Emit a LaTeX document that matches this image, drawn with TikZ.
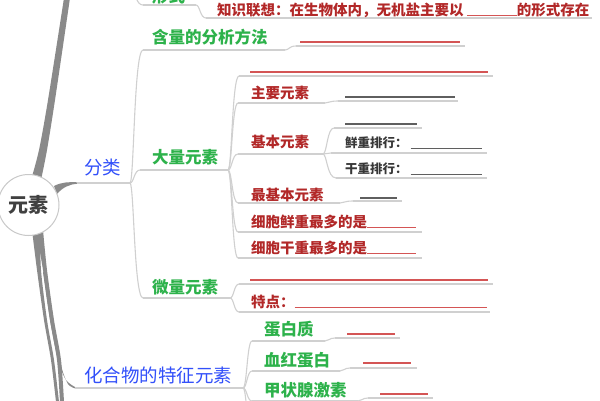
\documentclass[tikz,border=0pt]{standalone}
\usepackage{fontspec}
\newfontfamily\cjk{Noto Sans CJK SC}
\usetikzlibrary{calc}
\definecolor{redT}{RGB}{178,40,40}
\definecolor{redL}{RGB}{212,85,85}
\definecolor{greenT}{RGB}{45,178,75}
\definecolor{blueT}{RGB}{50,80,250}
\definecolor{darkT}{RGB}{55,55,55}
\definecolor{darkL}{RGB}{95,95,95}
\definecolor{ulgray}{RGB}{208,208,208}
\definecolor{trunkgray}{RGB}{138,138,138}
\definecolor{circgray}{RGB}{200,200,200}
\newcommand\mmlink[2]{\draw[ul] let \p1=(#1), \p2=(#2) in (\p1) .. controls (\x1+4pt,\y1) and (\x1+4pt,\y2) .. (\p2);}
\begin{document}
\begin{tikzpicture}[x=1pt,y=-1pt,
 ul/.style={draw=ulgray,line width=1.1pt},
 trunk/.style={fill=trunkgray},
 base/.style={anchor=west,inner sep=0pt,outer sep=0pt},
 tblue/.style={base,text=blueT,font=\cjk\fontsize{18.5}{20}\selectfont},
 tgreen/.style={base,text=greenT,font=\cjk\bfseries\fontsize{16.5}{18}\selectfont},
 tred/.style={base,text=redT,font=\cjk\bfseries\fontsize{14.5}{16}\selectfont},
 tdark/.style={base,text=darkT,font=\cjk\bfseries\fontsize{12.5}{14}\selectfont},
 blankR/.style={base,text=redL},
 blankD/.style={base,text=darkL},
]
\useasboundingbox (0,0) rectangle (600,400);
\clip (0,0) rectangle (600,400);
\fill[white] (0,0) rectangle (600,400);

% ---- thick branches
\fill[trunk] plot[smooth] coordinates {(64,-2) (48,100) (39,150) (31,180)} -- plot[smooth] coordinates {(41,180) (47,150) (55,100) (70,-2)} -- cycle;
\fill[trunk] plot[smooth] coordinates {(32,230) (37,270) (44,320) (51,360) (56,402)} -- plot[smooth] coordinates {(59,402) (54,360) (47,320) (41,270) (40,230)} -- cycle;
\fill[trunk] plot[smooth] coordinates {(36,230) (43,270) (50,320) (57,360) (60,402)} -- plot[smooth] coordinates {(64,402) (61,360) (54,320) (47,270) (43,230)} -- cycle;
\fill[trunk] plot[smooth] coordinates {(43,272) (50,320) (58,360) (66,380) (76,387.5)} -- plot[smooth] coordinates {(76,388.7) (68,384) (61,365) (53,320) (46,272)} -- cycle;
\fill[trunk] (54,186) .. controls (62,182) and (68,182) .. (78,182.3) -- (78,183.8) .. controls (70,184) and (63,187) .. (57,194) -- cycle;

% ---- coordinates
\coordinate (p0) at (132,-8);
\coordinate (u0s) at (143,5); \coordinate (J0) at (196,5);
\coordinate (u0c) at (206,18); \coordinate (u0e) at (592,18);
\coordinate (fls) at (77,183); \coordinate (J1) at (130,183);
\coordinate (hls) at (143,50); \coordinate (J3) at (285,50);
\coordinate (b0s) at (296,46); \coordinate (b0e) at (465,46);
\coordinate (dls) at (140,170); \coordinate (J4) at (228,170);
\coordinate (b1s) at (239,76); \coordinate (b1e) at (493,76);
\coordinate (zys) at (238,103); \coordinate (J6) at (325,103);
\coordinate (b2s) at (338,101); \coordinate (b2e) at (458,101);
\coordinate (jbs) at (238,154); \coordinate (J7) at (323,154);
\coordinate (b3s) at (334,128); \coordinate (b3e) at (422,128);
\coordinate (xzs) at (331,153); \coordinate (xze) at (487,153);
\coordinate (gzs) at (336,178); \coordinate (gze) at (487,178);
\coordinate (zjbs) at (238,203); \coordinate (J8) at (340,203);
\coordinate (b4s) at (353,201); \coordinate (b4e) at (402,201);
\coordinate (xxs) at (238,232); \coordinate (xxe) at (422,232);
\coordinate (ggs) at (238,258); \coordinate (gge) at (422,258);
\coordinate (wls) at (143,298); \coordinate (J5) at (230,298);
\coordinate (b5s) at (239,284); \coordinate (b5e) at (493,284);
\coordinate (tds) at (239,312); \coordinate (tde) at (490,312);
\coordinate (hhs) at (75,388); \coordinate (J2) at (243,388);
\coordinate (dbs) at (252,341); \coordinate (J9) at (325,341);
\coordinate (b6s) at (335,338); \coordinate (b6e) at (400,338);
\coordinate (xhs) at (252,371); \coordinate (J10) at (340,371);
\coordinate (b7s) at (350,368); \coordinate (b7e) at (417,368);
\coordinate (jzs) at (252,401); \coordinate (J11) at (358,401);
\coordinate (b8s) at (368,398); \coordinate (b8e) at (433,398);
\coordinate (more) at (252,440);

% ---- underlines / links
\mmlink{p0}{u0s} \draw[ul] (u0s) -- (J0); \mmlink{J0}{u0c} \draw[ul] (u0c) -- (u0e);
\draw[ul] (fls) -- (J1);
\mmlink{J1}{hls} \draw[ul] (hls) -- (J3); \mmlink{J3}{b0s} \draw[ul] (b0s) -- (b0e);
\mmlink{J1}{dls} \draw[ul] (dls) -- (J4);
\mmlink{J1}{wls} \draw[ul] (wls) -- (J5);
\mmlink{J4}{b1s} \draw[ul] (b1s) -- (b1e);
\mmlink{J4}{zys} \draw[ul] (zys) -- (J6); \mmlink{J6}{b2s} \draw[ul] (b2s) -- (b2e);
\mmlink{J4}{jbs} \draw[ul] (jbs) -- (J7);
\mmlink{J7}{b3s} \draw[ul] (b3s) -- (b3e);
\mmlink{J7}{xzs} \draw[ul] (xzs) -- (xze);
\mmlink{J7}{gzs} \draw[ul] (gzs) -- (gze);
\mmlink{J4}{zjbs} \draw[ul] (zjbs) -- (J8); \mmlink{J8}{b4s} \draw[ul] (b4s) -- (b4e);
\mmlink{J4}{xxs} \draw[ul] (xxs) -- (xxe);
\mmlink{J4}{ggs} \draw[ul] (ggs) -- (gge);
\mmlink{J5}{b5s} \draw[ul] (b5s) -- (b5e);
\mmlink{J5}{tds} \draw[ul] (tds) -- (tde);
\draw[ul] (hhs) -- (J2);
\mmlink{J2}{dbs} \draw[ul] (dbs) -- (J9); \mmlink{J9}{b6s} \draw[ul] (b6s) -- (b6e);
\mmlink{J2}{xhs} \draw[ul] (xhs) -- (J10); \mmlink{J10}{b7s} \draw[ul] (b7s) -- (b7e);
\mmlink{J2}{jzs} \draw[ul] (jzs) -- (J11); \mmlink{J11}{b8s} \draw[ul] (b8s) -- (b8e);
\mmlink{J2}{more}

% ---- centre
\node[circle, draw=circgray, fill=white, line width=1pt, minimum size=61pt, inner sep=0pt,
      font=\cjk\bfseries\fontsize{20}{22}\selectfont, text=black!75] (ys) at (28.5,205) {元素};

% ---- texts
\node[tgreen] (xs) at (152,-4) {形式};
\node[tred] (zs) at (217,10) {知识联想：在生物体内，无机盐主要以 \textcolor{redL}{\rule[-0.8pt]{50pt}{1.2pt}}的形式存在};
\node[tgreen] (hl) at (152,37) {含量的分析方法};
\node[blankR] (b0) at (300,42) {\rule{160pt}{1.2pt}};
\node[tblue] (fl) at (84,168) {分类};
\node[tgreen] (dl) at (152,157) {大量元素};
\node[tgreen] (wl) at (152,287) {微量元素};
\node[tblue] (hh) at (84,375) {化合物的特征元素};
\node[blankR] (b1) at (250,72) {\rule{238pt}{1.2pt}};
\node[tred] (zy) at (251,93) {主要元素};
\node[blankD] (b2) at (345,97) {\rule{110pt}{1.2pt}};
\node[tred] (jb) at (251,142) {基本元素};
\node[blankD] (b3) at (345,124) {\rule{72pt}{1.2pt}};
\node[tdark] (xz) at (345,143) {鲜重排行：\hspace{3pt}\textcolor{darkL}{\rule[-1pt]{71pt}{1.2pt}}};
\node[tdark] (gz) at (345,169) {干重排行：\hspace{3pt}\textcolor{darkL}{\rule[-1pt]{71pt}{1.2pt}}};
\node[tred] (zjb) at (251,195) {最基本元素};
\node[blankD] (b4) at (360,198) {\rule{37pt}{1.2pt}};
\node[tred] (xx) at (251,222) {细胞鲜重最多的是\textcolor{redL}{\rule[-0.3pt]{49pt}{1.2pt}}};
\node[tred] (gg) at (251,248) {细胞干重最多的是\textcolor{redL}{\rule[-0.3pt]{49pt}{1.2pt}}};
\node[blankR] (b5) at (250,280) {\rule{238pt}{1.2pt}};
\node[tred] (td) at (251,302) {特点：\textcolor{redL}{\rule[-0.5pt]{192pt}{1.2pt}}};
\node[tgreen] (db) at (264,329) {蛋白质};
\node[blankR] (b6) at (347,334) {\rule{48pt}{1.2pt}};
\node[tgreen] (xh) at (264,360) {血红蛋白};
\node[blankR] (b7) at (363,363) {\rule{48pt}{1.2pt}};
\node[tgreen] (jz) at (264,390) {甲状腺激素};
\node[blankR] (b8) at (380,394) {\rule{48pt}{1.2pt}};
\end{tikzpicture}
\end{document}
